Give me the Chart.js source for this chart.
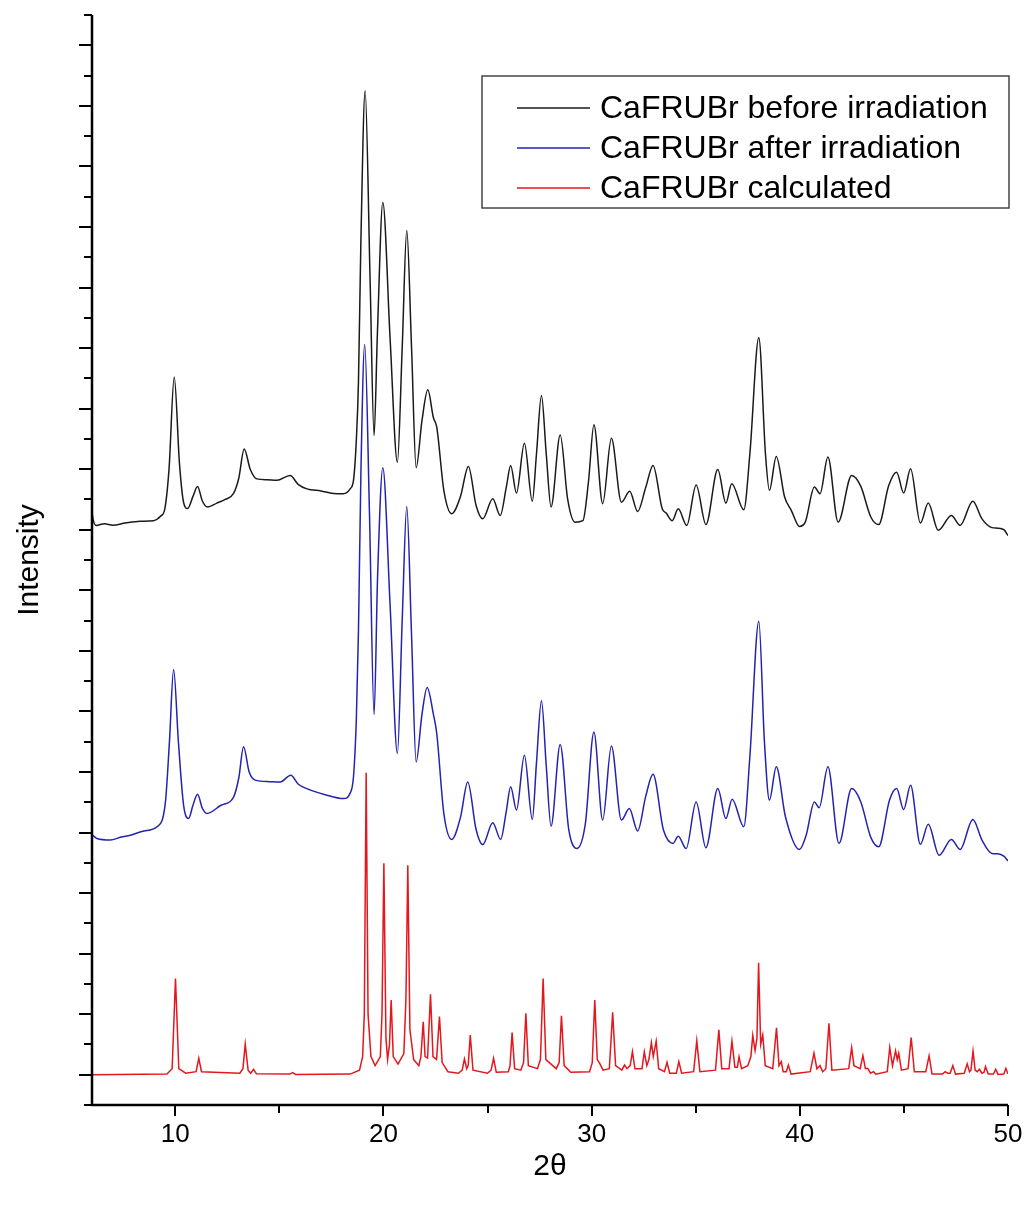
<!DOCTYPE html>
<html>
<head>
<meta charset="utf-8">
<script src="https://cdn.jsdelivr.net/npm/chart.js@4.4.1/dist/chart.umd.min.js"></script>
<style>
    body { margin: 0; background: #fff; }
    #xrdChart { display: block; }
</style>
</head>
<body>
<canvas id="xrdChart" width="1027" height="1207"></canvas>
<script>
// 2theta / intensity pairs (offset traces, arbitrary units)
const beforeIrradiation = [
    [6.0, 19.6], [6.05, 19.35], [6.2, 19.14], [6.6, 19.2], [7.0, 19.15], [7.6, 19.22], [8.3, 19.28],
    [8.96, 19.3], [9.3, 19.45], [9.5, 19.7], [9.7, 21.0], [9.95, 24.04], [10.2, 21.2], [10.4, 19.9],
    [10.59, 19.7], [10.85, 20.1], [11.07, 20.43], [11.3, 19.95], [11.55, 19.75], [12.0, 19.88],
    [12.4, 20.0], [12.8, 20.2], [13.05, 20.7], [13.31, 21.67], [13.6, 21.0], [13.92, 20.68],
    [14.4, 20.65], [14.88, 20.63], [15.52, 20.79], [15.9, 20.5], [16.32, 20.35], [17.0, 20.28],
    [17.6, 20.2], [18.08, 20.19], [18.4, 20.35], [18.56, 20.63], [18.7, 22.0], [18.8, 23.9],
    [18.91, 28.3], [19.12, 33.5], [19.36, 27.2], [19.55, 22.11], [19.71, 25.5], [19.97, 29.81],
    [20.32, 25.3], [20.67, 21.23], [20.9, 25.0], [21.12, 28.88], [21.35, 25.0], [21.57, 21.05],
    [21.85, 22.6], [22.13, 23.62], [22.4, 22.7], [22.56, 22.39], [22.9, 20.3], [23.28, 19.53],
    [23.7, 20.1], [24.08, 21.09], [24.45, 19.8], [24.77, 19.36], [25.25, 20.02], [25.61, 19.47],
    [25.9, 20.4], [26.11, 21.12], [26.39, 20.21], [26.77, 21.86], [27.15, 19.94], [27.35, 21.5],
    [27.59, 23.43], [27.82, 21.5], [28.05, 19.75], [28.49, 22.13], [28.85, 20.0], [29.2, 19.25],
    [29.58, 19.3], [29.85, 20.6], [30.11, 22.47], [30.53, 19.86], [30.95, 22.02], [31.43, 19.91],
    [31.83, 20.27], [32.21, 19.6], [32.6, 20.4], [32.95, 21.12], [33.39, 19.69], [33.58, 19.55],
    [33.87, 19.3], [34.16, 19.69], [34.57, 19.14], [35.02, 20.48], [35.49, 19.17], [36.06, 20.99],
    [36.45, 19.88], [36.73, 20.52], [37.31, 19.66], [37.6, 21.5], [38.03, 25.34], [38.35, 21.5],
    [38.54, 20.3], [38.87, 21.42], [39.27, 20.08], [39.59, 19.64], [39.98, 19.11], [40.26, 19.25],
    [40.7, 20.41], [40.97, 20.19], [41.35, 21.4], [41.84, 19.25], [42.49, 20.79], [42.93, 20.43],
    [43.41, 19.42], [43.79, 19.17], [44.27, 20.46], [44.65, 20.9], [44.99, 20.21], [45.32, 21.01],
    [45.79, 19.22], [46.17, 19.88], [46.65, 18.98], [47.28, 19.47], [47.7, 19.14], [48.31, 19.94],
    [48.75, 19.36], [49.23, 19.07], [49.5, 19.05], [49.8, 19.0], [50.0, 18.81]
];

const afterIrradiation = [
    [6.0, 7.6], [6.02, 8.9], [6.24, 8.8], [6.88, 8.75], [7.4, 8.85], [7.84, 8.91], [8.5, 9.05],
    [9.12, 9.19], [9.52, 9.96], [9.72, 12.0], [9.92, 14.38], [10.15, 12.0], [10.4, 9.9], [10.64, 9.46],
    [10.85, 9.9], [11.07, 10.26], [11.3, 9.8], [11.52, 9.63], [12.2, 9.9], [12.8, 10.17], [13.05, 10.8],
    [13.28, 11.83], [13.55, 11.0], [13.84, 10.73], [14.5, 10.68], [15.04, 10.67], [15.55, 10.89],
    [15.9, 10.6], [16.32, 10.45], [17.2, 10.25], [18.08, 10.12], [18.4, 10.3], [18.56, 10.84],
    [18.7, 12.8], [18.8, 15.68], [18.92, 21.0], [19.1, 25.12], [19.33, 19.5], [19.55, 12.9],
    [19.72, 17.5], [19.97, 21.05], [20.32, 16.5], [20.67, 11.61], [20.9, 16.0], [21.12, 19.77],
    [21.35, 15.5], [21.57, 11.33], [21.85, 12.9], [22.1, 13.79], [22.4, 12.9], [22.56, 12.27],
    [22.9, 9.63], [23.28, 8.77], [23.7, 9.5], [24.05, 10.67], [24.45, 9.1], [24.77, 8.6],
    [25.25, 9.32], [25.63, 8.77], [25.9, 9.7], [26.11, 10.51], [26.39, 9.74], [26.77, 11.55],
    [27.15, 9.43], [27.35, 11.3], [27.59, 13.35], [27.82, 11.2], [28.05, 9.21], [28.49, 11.91],
    [28.9, 9.1], [29.29, 8.47], [29.7, 9.3], [30.11, 12.32], [30.53, 9.41], [30.95, 11.86],
    [31.43, 9.41], [31.81, 9.79], [32.21, 9.05], [32.6, 10.2], [32.95, 10.92], [33.45, 9.08],
    [33.91, 8.64], [34.16, 8.88], [34.54, 8.47], [35.02, 10.01], [35.49, 8.5], [36.06, 10.45],
    [36.45, 9.46], [36.75, 10.1], [37.31, 9.19], [37.6, 11.5], [38.03, 15.98], [38.3, 12.0],
    [38.54, 10.07], [38.87, 11.17], [39.31, 9.52], [39.98, 8.44], [40.3, 8.9], [40.7, 10.01],
    [40.93, 9.82], [41.35, 11.17], [41.88, 8.64], [42.49, 10.45], [42.93, 10.01], [43.41, 8.84],
    [43.79, 8.53], [44.31, 10.07], [44.65, 10.45], [44.99, 9.76], [45.32, 10.56], [45.79, 8.61],
    [46.17, 9.27], [46.69, 8.25], [47.28, 8.77], [47.7, 8.44], [48.31, 9.43], [48.75, 8.75],
    [49.23, 8.31], [49.5, 8.3], [49.8, 8.22], [50.0, 8.06]
];

const calculated = [
    [6.0, 1.0], [9.6, 1.02], [9.85, 1.2], [10.01, 4.18], [10.17, 1.2], [10.5, 1.05], [11.0, 1.1],
    [11.13, 1.54], [11.26, 1.1], [13.1, 1.05], [13.25, 1.2], [13.36, 2.01], [13.5, 1.15], [13.62, 1.05],
    [13.76, 1.18], [13.9, 1.03], [15.5, 1.02], [15.64, 1.07], [15.78, 1.01], [18.4, 1.02], [18.85, 1.15],
    [19.0, 1.6], [19.08, 3.0], [19.17, 10.97], [19.26, 3.0], [19.4, 1.6], [19.6, 1.3], [19.85, 1.6],
    [19.93, 3.0], [20.02, 7.98], [20.12, 2.2], [20.2, 1.5], [20.29, 2.0], [20.37, 3.47], [20.47, 1.6],
    [20.7, 1.35], [20.98, 1.7], [21.08, 3.5], [21.17, 7.92], [21.27, 2.5], [21.45, 1.5], [21.7, 1.3],
    [21.8, 1.6], [21.91, 2.75], [22.0, 1.6], [22.12, 1.55], [22.26, 3.66], [22.38, 1.6], [22.55, 1.5],
    [22.69, 2.92], [22.82, 1.4], [23.1, 1.1], [23.6, 1.05], [23.78, 1.15], [23.89, 1.52], [24.0, 1.2],
    [24.07, 1.3], [24.17, 2.31], [24.3, 1.15], [25.0, 1.05], [25.17, 1.15], [25.29, 1.54], [25.42, 1.08],
    [26.0, 1.1], [26.08, 1.3], [26.18, 2.39], [26.3, 1.2], [26.6, 1.15], [26.73, 1.4], [26.84, 3.03],
    [26.96, 1.3], [27.4, 1.2], [27.54, 1.5], [27.67, 4.18], [27.8, 1.5], [28.3, 1.2], [28.44, 1.4],
    [28.55, 2.95], [28.68, 1.3], [29.0, 1.08], [29.9, 1.1], [30.03, 1.4], [30.15, 3.47], [30.27, 1.5],
    [30.38, 1.38], [30.55, 1.15], [30.85, 1.2], [31.01, 3.06], [31.15, 1.3], [31.45, 1.15], [31.58, 1.32],
    [31.7, 1.2], [31.85, 1.3], [31.96, 1.76], [32.08, 1.2], [32.42, 1.2], [32.53, 1.76], [32.65, 1.3],
    [32.75, 1.5], [32.87, 2.06], [32.96, 1.6], [33.1, 2.11], [33.22, 1.2], [33.5, 1.1], [33.62, 1.41],
    [33.75, 1.05], [34.07, 1.05], [34.19, 1.43], [34.32, 1.05], [34.9, 1.1], [35.05, 2.12], [35.2, 1.1],
    [35.95, 1.15], [36.11, 2.48], [36.25, 1.2], [36.6, 1.2], [36.74, 2.11], [36.88, 1.25], [37.0, 1.25],
    [37.08, 1.59], [37.2, 1.2], [37.5, 1.3], [37.65, 1.6], [37.74, 2.3], [37.85, 1.8], [37.94, 2.2],
    [38.02, 4.7], [38.12, 2.0], [38.22, 2.31], [38.34, 1.3], [38.7, 1.2], [38.88, 2.55], [39.0, 1.3],
    [39.11, 1.43], [39.2, 1.1], [39.35, 1.1], [39.45, 1.32], [39.58, 1.02], [40.5, 1.1], [40.68, 1.71],
    [40.82, 1.2], [40.97, 1.3], [41.1, 1.1], [41.25, 1.2], [41.4, 2.7], [41.54, 1.15], [42.35, 1.2],
    [42.49, 1.89], [42.6, 1.3], [42.9, 1.2], [43.03, 1.63], [43.15, 1.2], [43.26, 1.21], [43.4, 1.05],
    [43.54, 1.1], [43.65, 1.02], [44.2, 1.1], [44.32, 1.9], [44.45, 1.3], [44.6, 1.79], [44.68, 1.5],
    [44.75, 1.71], [44.88, 1.15], [45.2, 1.2], [45.35, 2.23], [45.5, 1.1], [46.05, 1.1], [46.21, 1.62],
    [46.35, 1.02], [46.85, 1.02], [46.98, 1.1], [47.1, 1.05], [47.22, 1.05], [47.35, 1.3], [47.48, 1.02],
    [47.9, 1.05], [48.04, 1.36], [48.15, 1.1], [48.22, 1.15], [48.32, 1.78], [48.42, 1.15], [48.52, 1.1],
    [48.63, 1.18], [48.75, 1.05], [48.85, 1.08], [48.92, 1.27], [49.05, 1.02], [49.3, 1.02], [49.41, 1.18],
    [49.52, 1.01], [49.8, 1.02], [49.9, 1.21], [50.0, 1.02]
];

const seriesLabels = ['CaFRUBr before irradiation', 'CaFRUBr after irradiation', 'CaFRUBr calculated'];
const seriesColors = ['#1a1a1a', '#2323b0', '#e3171d'];
const xTicks = [10, 15, 20, 25, 30, 35, 40, 45, 50];
const yTicks = [0, 1, 2, 3, 4, 5, 6, 7, 8, 9, 10, 11, 12, 13, 14, 15, 16, 17, 18,
    19, 20, 21, 22, 23, 24, 25, 26, 27, 28, 29, 30, 31, 32, 33, 34, 35, 36];

const FONT = '"Liberation Sans", Arial, sans-serif';

//..axis lines, tick marks and framed legend like the Origin plot
const originAxes = {
    id: 'originAxes',
    afterDatasetsDraw(chart) {
        const ctx = chart.ctx;
        const xs = chart.scales.x;
        const ys = chart.scales.y;
        const area = chart.chartArea;
        ctx.save();
        ctx.strokeStyle = '#000';
        ctx.lineCap = 'butt';

        ctx.lineWidth = 2;
        xTicks.forEach(v => {
            const px = Math.round(xs.getPixelForValue(v));
            const len = v % 10 === 0 ? 11 : 8;
            ctx.beginPath();
            ctx.moveTo(px, area.bottom);
            ctx.lineTo(px, area.bottom + len);
            ctx.stroke();
        });
        yTicks.forEach(v => {
            const py = Math.round(ys.getPixelForValue(v));
            const len = v % 2 === 1 ? 13 : 8;
            ctx.beginPath();
            ctx.moveTo(area.left, py);
            ctx.lineTo(area.left - len, py);
            ctx.stroke();
        });

        ctx.lineWidth = 2.5;
        ctx.beginPath();
        ctx.moveTo(area.left, area.top);
        ctx.lineTo(area.left, area.bottom);
        ctx.lineTo(area.right, area.bottom);
        ctx.stroke();

        //..legend
        const box = { left: 482, top: 76, right: 1009, bottom: 208 };
        ctx.lineWidth = 1.5;
        ctx.strokeStyle = '#444';
        ctx.strokeRect(box.left, box.top, box.right - box.left, box.bottom - box.top);
        ctx.font = '32px ' + FONT;
        ctx.textBaseline = 'middle';
        ctx.textAlign = 'left';
        chart.data.datasets.forEach((ds, i) => {
            const y = 108 + i * 40;
            ctx.strokeStyle = ds.borderColor;
            ctx.lineWidth = 1.5;
            ctx.beginPath();
            ctx.moveTo(517, y);
            ctx.lineTo(590, y);
            ctx.stroke();
            ctx.fillStyle = '#000';
            ctx.fillText(ds.label, 600, y + 1);
        });
        ctx.restore();
    }
};

const lineDataset = (i, data) => ({
    label: seriesLabels[i],
    data: data,
    borderColor: seriesColors[i],
    borderWidth: 1.5,
    pointRadius: 0,
    fill: false,
    tension: i === 2 ? 0 : 0.4,
    cubicInterpolationMode: i === 2 ? 'default' : 'monotone'
});

new Chart(document.getElementById('xrdChart'), {
    type: 'line',
    data: {
        datasets: [
            lineDataset(0, beforeIrradiation),
            lineDataset(1, afterIrradiation),
            lineDataset(2, calculated)
        ]
    },
    plugins: [originAxes],
    options: {
        responsive: false,
        animation: false,
        devicePixelRatio: 1,
        layout: { padding: { left: 0, right: 0, top: 15, bottom: 0 } },
        plugins: {
            legend: { display: false },
            tooltip: { enabled: false }
        },
        scales: {
            x: {
                type: 'linear',
                min: 6,
                max: 50,
                afterBuildTicks: s => { s.ticks = xTicks.map(v => ({ value: v })); },
                afterFit: s => { s.height = 102; s.paddingRight = 19; },
                grid: { display: false, drawTicks: false },
                border: { display: false },
                ticks: {
                    padding: 14,
                    color: '#000',
                    font: { family: FONT, size: 26 },
                    maxRotation: 0,
                    callback: v => (v % 10 === 0 ? String(v) : '')
                },
                title: {
                    display: true,
                    text: '2θ',
                    color: '#000',
                    font: { family: FONT, size: 30 },
                    padding: { top: 0, bottom: 22 }
                }
            },
            y: {
                type: 'linear',
                min: 0,
                max: 36,
                afterBuildTicks: s => { s.ticks = yTicks.map(v => ({ value: v })); },
                afterFit: s => { s.width = 92; },
                grid: { display: false, drawTicks: false },
                border: { display: false },
                ticks: { display: false },
                title: {
                    display: true,
                    text: 'Intensity',
                    color: '#000',
                    font: { family: FONT, size: 30 },
                    padding: { top: 12, bottom: 0 }
                }
            }
        }
    }
});
</script>
</body>
</html>
